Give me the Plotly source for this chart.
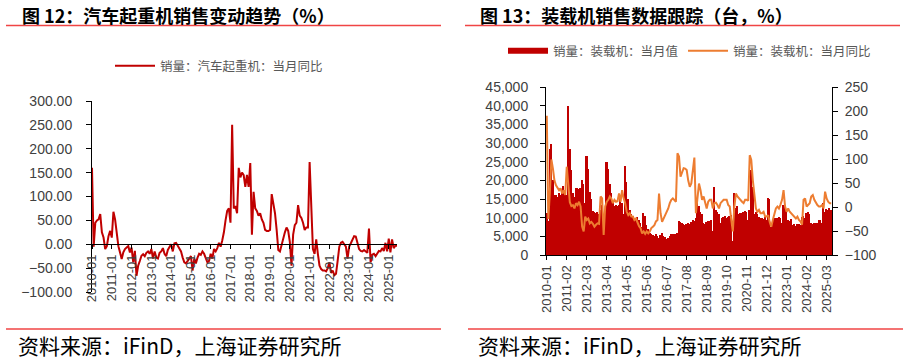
import plotly.graph_objects as go
import pandas as pd

# ---------------- data ----------------
months = pd.date_range("2010-01-01", periods=186, freq="MS").strftime("%Y-%m").tolist()

crane_yoy = [
    160, -5, 45, 50, 52, 63, 25, 14, -10, -4, 17, 28,
    14, 68, 52, 25, -4, -17, -31, -17, -10, -7, -4, -17,
    -7, -38, -14, -66, -45, -35, -24, -21, -25, -18, -15, -20,
    -10, -30, -15, -28, -30, -18, -15, -8, -20, -25, -12, -6,
    0, -15, 2, 3, -3, -10, -15, -28, -38, -40, -36, -30,
    -25, -55, -30, -40, -28, -20, -22, -15, -20, -30, -38, -35,
    -20, -30, -10, -15, -8, 3, -5, 8, 25, 50, 70, 75,
    45, 250, 75, 80, 65, 160, 140, 150, 145, 120, 145, 120,
    170, 20, 110, 75, 70, 60, 65, 52, 45, 30, 28, 28,
    30, 105, 85, 65, 30, -12, -15, 0, 15, 25, 35, 28,
    5, -45, 20, 40, 45, 82, 60, 55, 45, 30, 35, 35,
    172, 80, -10, -20, 10, -20, -45, -52, -55, -55, -57, -50,
    -38, -60, -55, -65, -62, -35, -5, 3, 5, 0, -5, -30,
    -5, 2, 10, 17, 16, 0, -10, -14, -15, -12, -15, -18,
    33, -38, -22, -20, -25, -18, -14, -15, -8, -14, 3, -15,
    12, -17, 10, -8, -3, -3,
]

loader_sales = [
    11200, 9000, 28500, 29700, 20000, 16000, 16000, 15500, 16500, 16000, 17500, 18500,
    16500, 16000, 40000, 28500, 22700, 16500, 15500, 18000, 18000, 17800, 18000, 20000,
    19000, 14000, 26500, 23000, 17000, 15000, 11800, 11400, 11200, 11500, 11000, 12000,
    13500, 10000, 9000, 25000, 23000, 19000, 16500, 14000, 13000, 13500, 13000, 13500,
    15000, 14000, 11000, 23800, 19500, 15000, 12000, 11000, 10500, 10000, 10000, 10200,
    9500, 8500, 7500, 11200, 10500, 8000, 7000, 6000, 5500, 5300, 5200, 5500,
    5000, 4500, 5300, 5800, 5000, 4800, 4300, 4600, 5200, 5700, 5600, 5600,
    5700, 5800,
    9000, 8800, 8500, 8300, 8000, 8300, 8600, 8200, 8800, 9400, 9000, 9800,
    13800, 13000, 11600, 11000, 8600, 8400, 8800, 9000, 9200, 9500, 6300, 18300,
    12000, 11600, 11000, 8500, 9800, 10200, 10400, 10000, 10300, 10500, 10600, 3800,
    16500, 12500, 13000, 11000, 11300, 11200, 11600, 11800, 11500, 9400, 12000, 22800,
    18300, 11000, 11500, 10900, 10200, 9800, 10000, 9600, 10200, 9300, 15200, 15000,
    7600, 9500, 10000, 9800, 10000, 10300, 9800, 8500, 13400, 13000, 11500, 9400,
    9200, 9600, 8000, 8200, 7900, 8400, 8300, 8000, 10300, 10500, 10000, 11200,
    11500, 11000, 8500, 8300, 8700, 8500, 8600, 9400, 9300, 8500, 13800, 11600,
    12200, 12000, 12500, 12000,
]

loader_yoy = [
    190, -25, 30, 99, 80, 55, 45, 40, 35, 39, 28, 35,
    25, 84, 50, 10, 2, 4, -3, 8, 4, 11, 1, -41,
    -51, -20, -27, -24, -34, -31, -35, -41, -37, -34, -35, 22,
    18, -58, 1, 11, 15, 22, 18, 8, 15, 11, 12, 28,
    11, 35, 18, 8, -10, -17, -13, -20, -20, -27, -24, -34,
    -40, -44, -55, -51, -56, -51, -55, -51, -44, -41, -38, -30,
    -27, 28, -13, -31, -24, -17, -13, -3, 8, 15, 18, 15,
    11, 112, 105, 63, 74, 81, 80, 77, 55, 42, 49, 80,
    103, -13, 20, 49, 35, 15, 22, 8, -3, 11, 15, 15,
    -3, 8, 9, 4, -3, 8, 11, 15, 15, 15, 4, 1,
    -27, -51, 1, 28, 22, 18, 13, 11, 8, 15, 15, 13,
    108, 98, 56, 28, -3, -10, -6, -13, -13, -10, -20, -20,
    -17, -31, -41, -27, -13, -3, 1, -3, 5, 15, 35, 1,
    -10, -3, -10, -13, -17, -20, -24, -20, -27, -30, -37, 15,
    18, 1, 4, 8, 22, 25, 15, 8, 4, 1, 1, 4,
    -3, 32, 18, 11, 8, 8,
]

left_ticks = months[::12]
right_ticks = months[::13]
left_y_ticks = [-100, -50, 0, 50, 100, 150, 200, 250, 300]
right_y1_ticks = [0, 5000, 10000, 15000, 20000, 25000, 30000, 35000, 40000, 45000]
right_y2_ticks = [-100, -50, 0, 50, 100, 150, 200, 250]

title_left = "图 12：汽车起重机销售变动趋势（%）"
title_right = "图 13：装载机销售数据跟踪（台，%）"
source_text = "资料来源：iFinD，上海证券研究所"
name_crane = "销量：汽车起重机：当月同比"
name_sales = "销量：装载机：当月值"
name_yoy = "销量：装载机：当月同比"

# ---------------- style ----------------
W, H = 905, 360
NUM_FONT = "Liberation Sans, Arial, sans-serif"
CJK_FONT = "Noto Sans CJK SC, sans-serif"
TICK_COLOR = "#404040"
RED = "#C00000"
ORANGE = "#ED7D31"
RULE = "#F04444"


def px(x):
    return x / W


def py(y):
    return 1 - y / H


fig = go.Figure()

fig.add_trace(go.Scatter(
    x=months, y=crane_yoy, mode="lines", name=name_crane,
    line=dict(color=RED, width=2), xaxis="x", yaxis="y", legend="legend",
))

fig.add_trace(go.Bar(
    x=months, y=loader_sales, name=name_sales, marker=dict(color=RED, line=dict(width=0)),
    xaxis="x2", yaxis="y2", showlegend=False,
))
# legend proxy for the bar series (drawn as a thick bar-coloured swatch)
fig.add_trace(go.Scatter(
    x=[None], y=[None], mode="lines", name=name_sales,
    line=dict(color=RED, width=6), xaxis="x2", yaxis="y2", legend="legend2",
))
fig.add_trace(go.Scatter(
    x=months, y=loader_yoy, mode="lines", name=name_yoy,
    line=dict(color=ORANGE, width=2), xaxis="x2", yaxis="y3", legend="legend2",
))

# left chart geometry
ly_dom = [py(292), py(101)]
zero_pos = ly_dom[0] + (0 - (-100)) / 400 * (ly_dom[1] - ly_dom[0])

xfont = dict(family=NUM_FONT, size=13, color=TICK_COLOR)
yfont = dict(family=NUM_FONT, size=14, color=TICK_COLOR)

fig.update_layout(
    width=W, height=H,
    margin=dict(l=0, r=0, t=0, b=0, autoexpand=False),
    paper_bgcolor="white", plot_bgcolor="white",
    bargap=0,
    xaxis=dict(
        domain=[px(92), px(397)], anchor="free", position=zero_pos,
        type="category", range=[0, 185],
        tickmode="array", tickvals=left_ticks, ticktext=left_ticks,
        tickangle=-90, ticks="outside", ticklen=4, tickcolor="black",
        showline=True, linecolor="black", linewidth=1,
        showgrid=False, zeroline=False, tickfont=xfont,
    ),
    yaxis=dict(
        domain=ly_dom, anchor="x", range=[-100, 300],
        tickmode="array", tickvals=left_y_ticks, tickformat=".2f",
        ticks="outside", ticklen=5, tickcolor="black", ticklabelstandoff=11,
        showline=True, linecolor="black", linewidth=1,
        showgrid=False, zeroline=False, tickfont=yfont,
    ),
    xaxis2=dict(
        domain=[px(546), px(832)], anchor="y2",
        type="category", range=[-0.5, 185.5],
        tickmode="array", tickvals=right_ticks, ticktext=right_ticks,
        tickangle=-90, ticks="outside", ticklen=4, tickcolor="black",
        showline=True, linecolor="black", linewidth=1,
        showgrid=False, zeroline=False, tickfont=xfont,
    ),
    yaxis2=dict(
        domain=[py(255), py(87)], anchor="x2", range=[0, 45000],
        tickmode="array", tickvals=right_y1_ticks, tickformat=",",
        ticks="outside", ticklen=5, tickcolor="black", ticklabelstandoff=9,
        showline=True, linecolor="black", linewidth=1,
        showgrid=False, zeroline=False, tickfont=yfont,
    ),
    yaxis3=dict(
        overlaying="y2", anchor="x2", side="right", range=[-100, 250],
        tickmode="array", tickvals=right_y2_ticks,
        ticks="outside", ticklen=5, tickcolor="black", ticklabelstandoff=4,
        showline=True, linecolor="black", linewidth=1,
        showgrid=False, zeroline=False, tickfont=yfont,
    ),
    legend=dict(
        x=px(110), y=py(66), xanchor="left", yanchor="middle",
        orientation="h", bgcolor="rgba(0,0,0,0)",
        font=dict(family=CJK_FONT, size=12.5, color="#595959"),
        itemwidth=40,
    ),
    legend2=dict(
        x=px(503), y=py(51), xanchor="left", yanchor="middle",
        orientation="h", bgcolor="rgba(0,0,0,0)",
        font=dict(family=CJK_FONT, size=12.5, color="#595959"),
        itemwidth=40,
    ),
)

annotations = [
    dict(text="<b>" + title_left + "</b>", x=px(20), y=py(15), xref="paper", yref="paper",
         xanchor="left", yanchor="middle", showarrow=False,
         font=dict(family=CJK_FONT, size=18, color="black")),
    dict(text="<b>" + title_right + "</b>", x=px(478), y=py(15), xref="paper", yref="paper",
         xanchor="left", yanchor="middle", showarrow=False,
         font=dict(family=CJK_FONT, size=18, color="black")),
    dict(text=source_text, x=px(16), y=py(345), xref="paper", yref="paper",
         xanchor="left", yanchor="middle", showarrow=False,
         font=dict(family=CJK_FONT, size=21, color="black")),
    dict(text=source_text, x=px(476), y=py(345), xref="paper", yref="paper",
         xanchor="left", yanchor="middle", showarrow=False,
         font=dict(family=CJK_FONT, size=21, color="black")),
]
fig.update_layout(annotations=annotations)

shapes = []
for x0, x1, yy in [(6, 441, 25.5), (465, 900, 25.5), (6, 441, 329), (468, 903, 329)]:
    shapes.append(dict(type="line", xref="paper", yref="paper",
                       x0=px(x0), x1=px(x1), y0=py(yy), y1=py(yy),
                       line=dict(color=RULE, width=1.5)))
fig.update_layout(shapes=shapes)

fig.write_html("out.html")
